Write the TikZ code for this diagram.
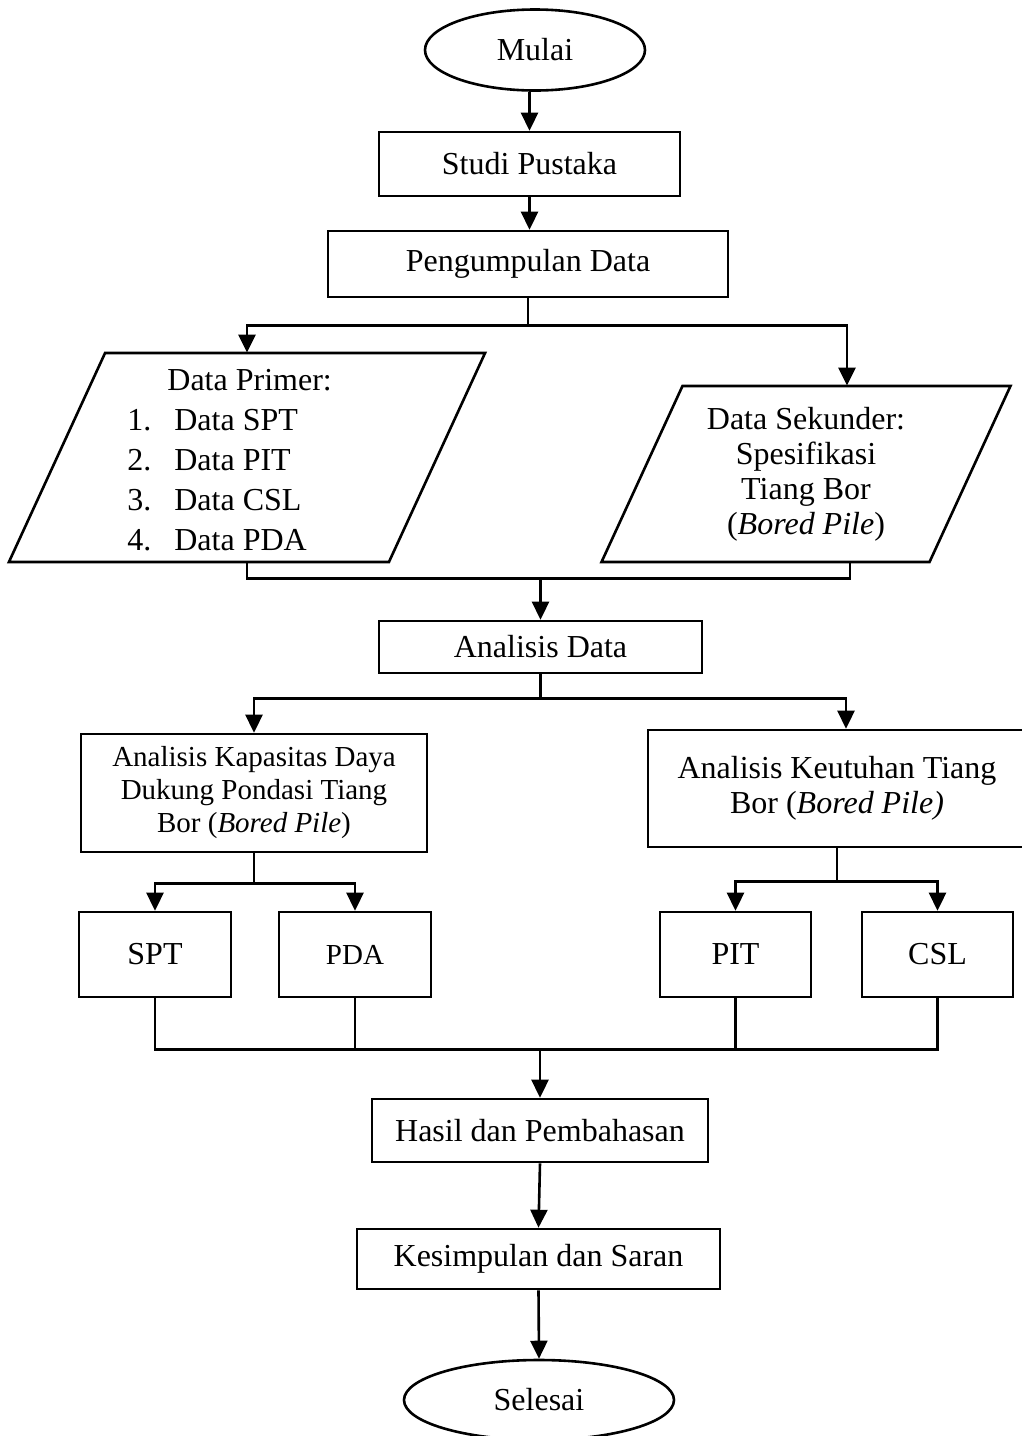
\documentclass[tikz,border=0pt]{standalone}
\usepackage{fontspec}
\setmainfont{Liberation Serif}
\usetikzlibrary{arrows.meta,shapes.geometric}

\tikzset{
  garis/.style={line width=1.3pt},
  kotak/.style={draw, garis, inner sep=0pt, align=center},
  oval/.style={kotak, ellipse},
  panah/.style={garis, -{Triangle[length=9pt,width=8.5pt]}},
  ukuran/.style 2 args={minimum width=#1*0.5pt, minimum height=#2*0.5pt},
}

% parallelogram: name, centre, width, height, [node options], text
\NewDocumentCommand{\jajar}{mmmmO{}m}{%
\begin{scope}[shift={(#2)}]%
\draw[garis] ({-#3/2+0.23*#4},{-#4/2}) -- ({#3/2+0.23*#4},{-#4/2})
  -- ({#3/2-0.23*#4},{#4/2}) -- ({-#3/2-0.23*#4},{#4/2}) -- cycle;%
\node[inner sep=0pt, ukuran={#3}{#4}, align=center, #5] (#1) at (0,0) {#6};%
\end{scope}%
}

\begin{document}
\begin{tikzpicture}[x=0.5pt,y=-0.5pt,font=\fontsize{16}{17.5}\selectfont]
\useasboundingbox (0,0) rectangle (1022,1436);

\node[oval, ukuran={220}{81}] (mulai) at (535,50) {Mulai};
\node[kotak, ukuran={301}{64}] (studi) at (529.5,164) {Studi Pustaka};
\node[kotak, ukuran={400}{66}] (kumpul) at (528,264) {Pengumpulan Data};

\jajar{primer}{247,457.5}{380}{209}{}
\node[anchor=west, inner sep=0pt, font=\fontsize{16}{20}\selectfont] (primer isi) at (127,462)
  {\begin{tabular}{@{}l@{\hspace{11.5pt}}l@{}}
   \multicolumn{2}{@{}l}{\hspace*{20pt}Data Primer:}\\
   1. & Data SPT\\
   2. & Data PIT\\
   3. & Data CSL\\
   4. & Data PDA
   \end{tabular}};
\jajar{sekunder}{806,474}{328}{176}{\vspace*{2pt}Data Sekunder:\\ Spesifikasi\\ Tiang Bor\\ (\textit{Bored Pile})}

\node[kotak, ukuran={323}{52}] (analisis) at (540.5,647) {Analisis Data};
\node[kotak, ukuran={346}{118}, font=\fontsize{14.5}{16.5}\selectfont] (kapasitas) at (254,793)
  {Analisis Kapasitas Daya\\ Dukung Pondasi Tiang\\ Bor (\textit{Bored Pile})};
\node[kotak, ukuran={378}{117}] (keutuhan) at (837,788.5)
  {Analisis Keutuhan Tiang\\ Bor (\textit{Bored Pile)}};

\node[kotak, ukuran={152}{85}] (spt) at (155,954.5) {SPT};
\node[kotak, ukuran={152}{85}, font=\fontsize{14.5}{16.5}\selectfont] (pda) at (355,954.5) {PDA};
\node[kotak, ukuran={151}{85}] (pit) at (735.5,954.5) {PIT};
\node[kotak, ukuran={151}{85}] (csl) at (937.5,954.5) {CSL};

\node[kotak, ukuran={336}{63}] (hasil) at (540,1130.5) {Hasil dan Pembahasan};
\node[kotak, ukuran={363}{60}] (simpul) at (538.5,1259) {Kesimpulan dan Saran};
\node[oval, ukuran={270}{80}] (selesai) at (539,1400) {Selesai};

% connectors
\draw[panah] (mulai.south -| studi.north) -- (studi.north);
\draw[panah] (studi.south) -- (studi.south |- kumpul.north);
\draw[garis] (kumpul.south) -- ++(0,27) coordinate (bagi data);
\draw[panah] (bagi data) -| (primer.north);
\draw[panah] (bagi data) -| ([xshift=20.5pt]sekunder.north);
\draw[garis] (primer.south) -- ++(0,16) coordinate (satu) -| ([xshift=22pt]sekunder.south);
\draw[panah] (satu -| analisis.north) -- (analisis.north);

\draw[garis] (analisis.south) -- ++(0,24) coordinate (bagi analisis);
\draw[panah] (bagi analisis) -| (kapasitas.north);
\draw[panah] (bagi analisis) -| ([xshift=4.5pt]keutuhan.north);

\draw[garis] (kapasitas.south) -- ++(0,30) coordinate (bagi kapasitas);
\foreach \n in {spt,pda} {\draw[panah] (bagi kapasitas) -| (\n.north);}
\draw[garis] (keutuhan.south) -- ++(0,33) coordinate (bagi keutuhan);
\foreach \n in {pit,csl} {\draw[panah] (bagi keutuhan) -| (\n.north);}

\draw[garis] (spt.south) -- ++(0,51) coordinate (gabung) -| (csl.south);
\foreach \n in {pda,pit} {\draw[garis] (\n.south) -- (\n.south |- gabung);}
\draw[panah] (gabung -| hasil.north) -- (hasil.north);
\draw[panah] (hasil.south) -- (simpul.north);
\draw[panah] (simpul.south) -- (selesai.north);
\end{tikzpicture}
\end{document}
